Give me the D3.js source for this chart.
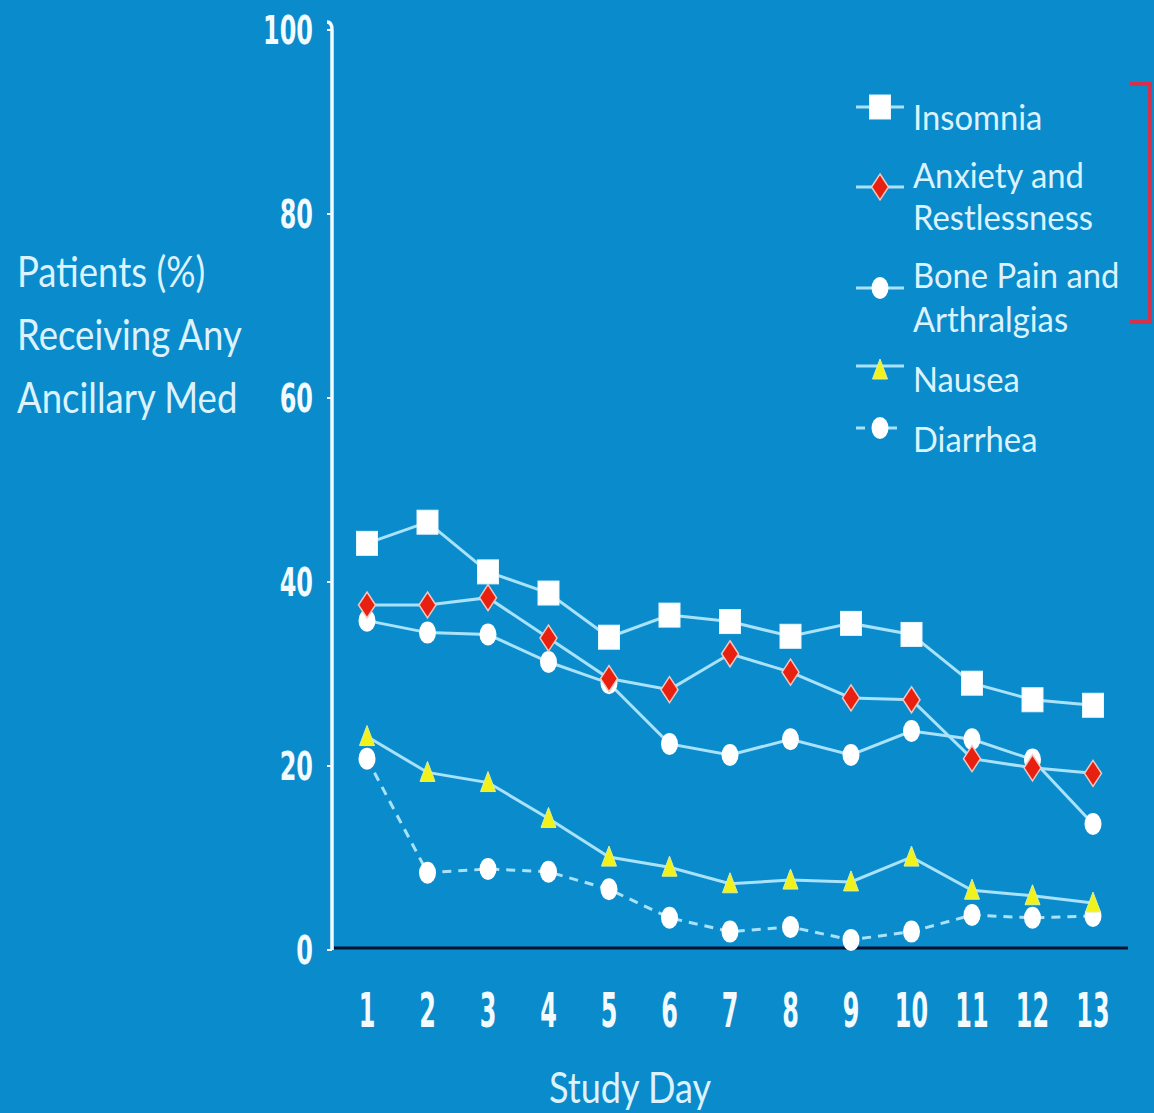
<!DOCTYPE html>
<html>
<head>
<meta charset="utf-8">
<script src="https://cdn.jsdelivr.net/npm/d3@7"></script>
<style>
  html, body { margin: 0; padding: 0; background: #0a8bcb; }
  svg { display: block; }
</style>
</head>
<body>
<svg id="chart" width="1154" height="1113"></svg>
<script>
// Study days on the x axis
const days = [1, 2, 3, 4, 5, 6, 7, 8, 9, 10, 11, 12, 13];
const yTicks = [0, 20, 40, 60, 80, 100];

// Percent of patients receiving any ancillary medication, by symptom
const insomnia   = [44.2, 46.5, 41.1, 38.8, 34.0, 36.4, 35.7, 34.1, 35.5, 34.3, 29.0, 27.2, 26.6];
const anxiety    = [37.5, 37.5, 38.3, 33.9, 29.5, 28.3, 32.2, 30.2, 27.4, 27.2, 20.8, 19.8, 19.2];
const bonePain   = [35.8, 34.5, 34.3, 31.3, 29.0, 22.4, 21.2, 22.9, 21.2, 23.8, 22.9, 20.7, 13.7];
const nausea     = [23.2, 19.3, 18.2, 14.3, 10.1, 9.0, 7.2, 7.6, 7.4, 10.1, 6.5, 5.9, 5.1];
const diarrhea   = [20.8, 8.4, 8.8, 8.5, 6.6, 3.5, 2.0, 2.5, 1.1, 2.0, 3.8, 3.5, 3.7];

const seriesNames = ["Insomnia", "Anxiety and\nRestlessness", "Bone Pain and\nArthralgias", "Nausea", "Diarrhea"];
const yTitle = ["Patients (%)", "Receiving Any", "Ancillary Med"];
const xTitle = "Study Day";

const TEXT = "#dcf3ff";
const LINE = "#a9e2fb";
const NARROW = "'Liberation Sans Narrow', 'DejaVu Sans Condensed', sans-serif";

const svg = d3.select("#chart");

const x = d3.scaleLinear().domain([1, 13]).range([367, 1093]);
const y = d3.scaleLinear().domain([0, 100]).range([950, 30]);

// Series definitions: data, marker shape, fill, dash pattern
const series = [
  { name: seriesNames[0], values: insomnia, marker: "square",   fill: "#ffffff", dash: null },
  { name: seriesNames[1], values: anxiety,  marker: "diamond",  fill: "#e8200f", dash: null },
  { name: seriesNames[2], values: bonePain, marker: "circle",   fill: "#ffffff", dash: null },
  { name: seriesNames[3], values: nausea,   marker: "triangle", fill: "#f2f21a", dash: null },
  { name: seriesNames[4], values: diarrhea, marker: "circle",   fill: "#ffffff", dash: "9,7" }
];

function drawMarker(g, type, fill) {
  if (type === "square") {
    g.append("rect").attr("x", -10.5).attr("y", -12).attr("width", 21).attr("height", 24)
      .attr("fill", fill).attr("stroke", "#e6f6ff").attr("stroke-width", 1);
  } else if (type === "diamond") {
    g.append("path").attr("d", "M0,-13 L8.5,0 L0,13 L-8.5,0 Z")
      .attr("fill", fill).attr("stroke", "#f3c7c0").attr("stroke-width", 1.5);
  } else if (type === "circle") {
    g.append("ellipse").attr("rx", 8.5).attr("ry", 11).attr("fill", fill);
  } else if (type === "triangle") {
    g.append("path").attr("d", "M0,-11 L7.5,9 L-7.5,9 Z")
      .attr("fill", fill).attr("stroke", "#d8f0a0").attr("stroke-width", 1);
  }
}

// Text drawn with independent horizontal / vertical scaling
function tallText(parent, tx, ty, str, size, opts = {}) {
  const g = parent.append("g").attr("transform", `translate(${tx},${ty}) scale(${opts.sx || 1},${opts.sy || 1})`);
  return g.append("text")
    .attr("x", 0).attr("y", 0)
    .attr("fill", opts.fill || TEXT)
    .attr("font-family", opts.family || "Lato, 'Open Sans', sans-serif")
    .attr("font-weight", opts.weight || "normal")
    .attr("font-size", size)
    .attr("text-anchor", opts.anchor || "start")
    .text(str);
}

// Y axis line with a small hook at the top
svg.append("path")
  .attr("d", `M327,${y(100) - 8} Q332,${y(100) - 8} 332,${y(100)} L332,${y(0)}`)
  .attr("fill", "none").attr("stroke", "#f4fbff").attr("stroke-width", 3.5);

// Y ticks and labels
yTicks.forEach(t => {
  svg.append("line").attr("x1", 327).attr("x2", 332).attr("y1", y(t)).attr("y2", y(t))
    .attr("stroke", "#f4fbff").attr("stroke-width", 2);
  tallText(svg, 313, y(t) + 14, String(t), 28,
    { anchor: "end", weight: "bold", family: NARROW, sx: 0.95, sy: 1.38, fill: "#f4fbff" });
});

// X axis line
svg.append("line").attr("x1", 334).attr("x2", 1128).attr("y1", y(0) - 2).attr("y2", y(0) - 2)
  .attr("stroke", "#06122e").attr("stroke-width", 3);

// X tick labels
days.forEach(d => {
  tallText(svg, x(d), 1027, String(d), 28,
    { anchor: "middle", weight: "bold", family: NARROW, sx: 0.95, sy: 1.7, fill: "#f4fbff" });
});

// Axis titles
tallText(svg, 630, 1103, xTitle, 42, { anchor: "middle", sx: 0.86 });
yTitle.forEach((s, i) => {
  tallText(svg, 17, 287 + i * 63, s, 42, { sx: 0.87 });
});

// Series lines and markers
const line = d3.line().x((v, i) => x(days[i])).y(v => y(v));
series.forEach(s => {
  svg.append("path").datum(s.values).attr("d", line)
    .attr("fill", "none").attr("stroke", LINE).attr("stroke-width", 3)
    .attr("stroke-dasharray", s.dash);
});
series.slice().reverse().forEach(s => {
  s.values.forEach((v, i) => {
    const g = svg.append("g").attr("transform", `translate(${x(days[i])},${y(v)})`);
    drawMarker(g, s.marker, s.fill);
  });
});

// Legend
const legendRows = [
  { lineY: 107, textY: [130] },
  { lineY: 187, textY: [188, 230] },
  { lineY: 288, textY: [288, 332] },
  { lineY: 366, textY: [392] },
  { lineY: 428, textY: [452] }
];
series.forEach((s, i) => {
  const r = legendRows[i];
  svg.append("line").attr("x1", 856).attr("x2", 904).attr("y1", r.lineY).attr("y2", r.lineY)
    .attr("stroke", LINE).attr("stroke-width", 3).attr("stroke-dasharray", s.dash);
  const g = svg.append("g").attr("transform", `translate(880,${r.lineY + (s.marker === "triangle" ? 4 : 0)})`);
  drawMarker(g, s.marker, s.fill);
  s.name.split("\n").forEach((ln, k) => {
    tallText(svg, 913, r.textY[k], ln, 34.5, { sx: 0.95 });
  });
});

// Bracket grouping the first three legend entries
svg.append("path")
  .attr("d", "M1130,84 L1150,84 L1150,322 L1130,322")
  .attr("fill", "none").attr("stroke", "#d8304c").attr("stroke-width", 4);
</script>
</body>
</html>
